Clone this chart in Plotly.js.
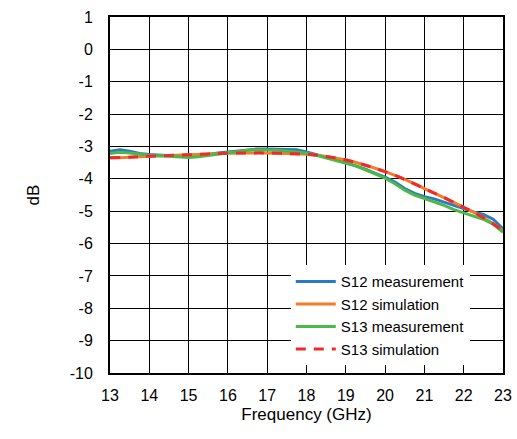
<!DOCTYPE html>
<html>
<head>
<meta charset="utf-8">
<script src="https://cdn.plot.ly/plotly-3.0.1.min.js"></script>
<style>html,body{margin:0;padding:0;background:#fff;}#chart{width:517px;height:439px;}</style>
</head>
<body>
<div id="chart"></div>
<script>
// Frequencies (GHz)
const freqMeas = [13,13.25,13.5,13.75,14,14.25,14.5,14.75,15,15.25,15.5,15.75,16,16.25,16.5,16.75,17,17.25,17.5,17.75,18,18.25,18.5,18.75,19,19.25,19.5,19.75,20,20.25,20.5,20.75,21,21.25,21.5,21.75,22,22.25,22.5,22.75,23];
const s12Meas = [-3.15,-3.10,-3.15,-3.22,-3.25,-3.27,-3.28,-3.30,-3.30,-3.28,-3.25,-3.20,-3.17,-3.13,-3.10,-3.08,-3.08,-3.08,-3.08,-3.10,-3.17,-3.25,-3.33,-3.42,-3.50,-3.60,-3.70,-3.83,-3.95,-4.10,-4.30,-4.45,-4.55,-4.62,-4.72,-4.82,-4.93,-5.02,-5.10,-5.25,-5.55];
const s13Meas = [-3.22,-3.18,-3.20,-3.24,-3.27,-3.29,-3.30,-3.33,-3.34,-3.32,-3.28,-3.24,-3.20,-3.15,-3.12,-3.10,-3.10,-3.12,-3.14,-3.16,-3.20,-3.27,-3.35,-3.42,-3.50,-3.60,-3.72,-3.85,-3.98,-4.15,-4.35,-4.50,-4.60,-4.70,-4.82,-4.95,-5.05,-5.15,-5.25,-5.40,-5.65];
const freqSim = [13,13.5,14,14.5,15,15.5,16,16.5,17,17.5,18,18.5,19,19.5,20,20.5,21,21.5,22,22.5,23];
const s12Sim = [-3.35,-3.33,-3.30,-3.28,-3.26,-3.23,-3.21,-3.20,-3.20,-3.22,-3.24,-3.31,-3.42,-3.58,-3.78,-4.02,-4.30,-4.58,-4.88,-5.20,-5.60];
const s13Sim = [-3.35,-3.33,-3.30,-3.28,-3.26,-3.23,-3.21,-3.20,-3.20,-3.22,-3.24,-3.31,-3.42,-3.58,-3.78,-4.02,-4.30,-4.58,-4.88,-5.20,-5.60];
const names = ["S12 measurement","S12 simulation","S13 measurement","S13 simulation"];
const xTicks = [13,14,15,16,17,18,19,20,21,22,23];
const xTickLabels = ["13","14","15","16","17","18","19","20","21","22","23"];
const yTicks = [1,0,-1,-2,-3,-4,-5,-6,-7,-8,-9,-10];
const yTickLabels = ["1","0","-1","-2","-3","-4","-5","-6","-7","-8","-9","-10"];

const traces = [
  {x: freqMeas, y: s12Meas, name: names[0], mode: 'lines', line: {color: '#2a7ac6', width: 3}},
  {x: freqSim, y: s12Sim, name: names[1], mode: 'lines', line: {color: '#f47b2a', width: 3, shape: 'spline'}},
  {x: freqMeas, y: s13Meas, name: names[2], mode: 'lines', line: {color: '#4cb848', width: 3}},
  {x: freqSim, y: s13Sim, name: names[3], mode: 'lines', line: {color: '#ee2a2a', width: 3, dash: '10px,8px', shape: 'spline'}}
];

const fam = 'Liberation Sans, Arial, sans-serif';
const tickFont = {family: fam, size: 16, color: '#000'};
const layout = {
  width: 517, height: 439,
  margin: {l: 110, r: 14, t: 17, b: 66},
  paper_bgcolor: '#fff', plot_bgcolor: '#fff',
  font: tickFont,
  showlegend: true,
  legend: {x: 0.46, y: 0.303, xanchor: 'left', yanchor: 'top', bgcolor: '#fff', borderwidth: 0,
           font: {family: fam, size: 15, color: '#000'}, tracegroupgap: 0, itemwidth: 40},
  xaxis: {
    range: [13, 23], tickmode: 'array', tickvals: xTicks, ticktext: xTickLabels,
    showgrid: true, gridcolor: '#000', gridwidth: 1,
    showline: true, linecolor: '#000', linewidth: 2, mirror: 'ticks',
    ticks: 'inside', ticklen: 6, tickcolor: '#000', ticklabelstandoff: 7,
    tickfont: tickFont,
    zeroline: false, fixedrange: true,
    title: {text: 'Frequency (GHz)', font: {family: fam, size: 17, color: '#000'}, standoff: 5}
  },
  yaxis: {
    range: [-10, 1], tickmode: 'array', tickvals: yTicks, ticktext: yTickLabels,
    showgrid: true, gridcolor: '#000', gridwidth: 1,
    showline: true, linecolor: '#000', linewidth: 2, mirror: 'ticks',
    ticks: 'inside', ticklen: 6, tickcolor: '#000', ticklabelstandoff: 12,
    tickfont: tickFont,
    zeroline: false, fixedrange: true,
    title: {text: 'dB', font: {family: fam, size: 17, color: '#000'}, standoff: 26}
  }
};
Plotly.newPlot('chart', traces, layout, {staticPlot: true});
</script>
</body>
</html>
